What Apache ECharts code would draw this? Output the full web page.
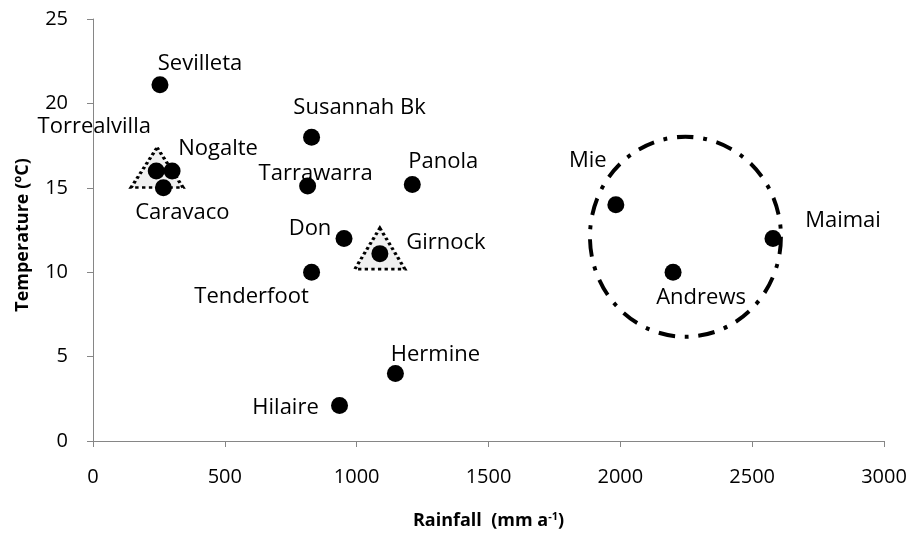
<!DOCTYPE html>
<html>
<head>
<meta charset="utf-8">
<script src="https://cdn.jsdelivr.net/npm/echarts@6/dist/echarts.min.js"></script>
<style>
  html, body { margin: 0; padding: 0; background: #fff; }
  #chart { width: 910px; height: 536px; }
</style>
</head>
<body>
<div id="chart"></div>
<script>
// site data
const sites = ['Sevilleta', 'Torrealvilla', 'Nogalte', 'Caravaco', 'Susannah Bk', 'Tarrawarra',
  'Panola', 'Don', 'Girnock', 'Tenderfoot', 'Hermine', 'Hilaire', 'Mie', 'Andrews', 'Maimai']
const rainfall = [254, 240, 300, 267, 829, 814, 1211, 952, 1088, 829, 1147, 935, 1983, 2200, 2579]
const temperature = [21.1, 16, 16, 15, 18, 15.1, 15.2, 12, 11.1, 10, 4, 2.1, 14, 10, 12]

// grouping outlines (centre in data units)
const groupShapes = ['triangle', 'triangle', 'circle']
const groupRainfall = [243, 1088, 2247]
const groupTemperature = [16.2, 11.4, 12.1]

const xTicks = [0, 500, 1000, 1500, 2000, 2500, 3000]
const yTicks = [0, 5, 10, 15, 20, 25]

// label centre relative to each dot (px)
const labelOffsets = {
  'Sevilleta': [40, -21],
  'Torrealvilla': [-62, -44],
  'Nogalte': [46, -22],
  'Caravaco': [19, 25],
  'Susannah Bk': [48, -29],
  'Tarrawarra': [8, -12],
  'Panola': [31, -23],
  'Don': [-34, -10],
  'Girnock': [66, -11],
  'Tenderfoot': [-60, 25],
  'Hermine': [40, -19],
  'Hilaire': [-54, 2],
  'Mie': [-28, -44],
  'Andrews': [28, 26],
  'Maimai': [70, -18]
}

const FONT = '"Open Sans"'
const axisGray = '#868686'
const DOT = 17

const siteData = sites.map((name, i) => ({
  name: name,
  value: [rainfall[i], temperature[i]],
  label: { position: [DOT / 2 + labelOffsets[name][0], DOT / 2 + labelOffsets[name][1]] }
}))

const groupStyles = [
  { size: [52, 40], fill: 'rgba(225,225,225,0.5)', border: [3, 3], width: 3 },
  { size: [50, 41], fill: 'rgba(225,225,225,0.5)', border: [3, 3], width: 3 },
  { size: [191, 200], fill: 'rgba(0,0,0,0)', border: [17, 10, 4, 10], width: 4 }
]

const groupData = groupShapes.map((s, i) => ({
  value: [groupRainfall[i], groupTemperature[i]],
  symbol: s,
  symbolSize: groupStyles[i].size,
  itemStyle: {
    color: groupStyles[i].fill,
    opacity: 1,
    borderColor: '#000',
    borderWidth: groupStyles[i].width,
    borderType: groupStyles[i].border
  }
}))

const chart = echarts.init(document.getElementById('chart'))

chart.setOption({
  animation: false,
  grid: { left: 93, right: 26, top: 19, bottom: 95 },
  xAxis: {
    type: 'value',
    min: xTicks[0],
    max: xTicks[xTicks.length - 1],
    interval: 500,
    splitLine: { show: false },
    axisLine: { lineStyle: { color: axisGray, width: 1 } },
    axisTick: { show: true, length: 6, lineStyle: { color: axisGray } },
    axisLabel: { color: '#000', fontFamily: FONT, fontSize: 20, margin: 26, formatter: v => String(v) },
    name: 'Rainfall  (mm a{sup|-1})',
    nameLocation: 'middle',
    nameGap: 70,
    nameTextStyle: {
      color: '#000', fontFamily: FONT, fontSize: 18, fontWeight: 'bold',
      rich: { sup: { fontSize: 11, fontWeight: 'bold', fontFamily: FONT, verticalAlign: 'top', padding: [0, 0, 9, 0] } }
    }
  },
  yAxis: {
    type: 'value',
    min: yTicks[0],
    max: yTicks[yTicks.length - 1],
    interval: 5,
    splitLine: { show: false },
    axisLine: { show: true, lineStyle: { color: axisGray, width: 1 } },
    axisTick: { show: true, length: 6, lineStyle: { color: axisGray } },
    axisLabel: { color: '#000', fontFamily: FONT, fontSize: 20, margin: 25 },
    name: 'Temperature (ºC)',
    nameLocation: 'middle',
    nameGap: 61,
    nameTextStyle: {
      color: '#000', fontFamily: FONT, fontSize: 18, fontWeight: 'bold',
      padding: [0, 10, 0, 0]
    }
  },
  series: [
    {
      type: 'scatter',
      z: 1,
      silent: true,
      data: groupData
    },
    {
      type: 'scatter',
      z: 2,
      symbol: 'circle',
      symbolSize: DOT,
      itemStyle: { color: '#000', opacity: 1 },
      label: {
        show: true,
        formatter: '{b}',
        color: '#000',
        fontFamily: FONT,
        fontSize: 22,
        align: 'center',
        verticalAlign: 'middle'
      },
      labelLayout: { hideOverlap: false },
      data: siteData
    }
  ]
})
</script>
</body>
</html>
